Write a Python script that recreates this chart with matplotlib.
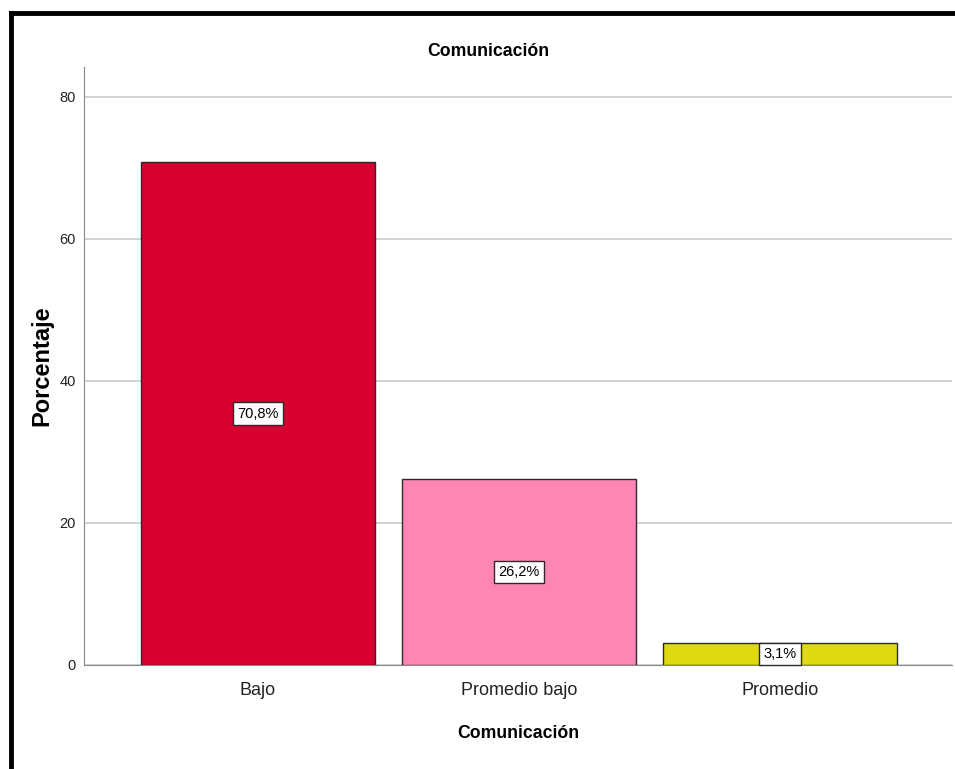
import matplotlib
matplotlib.use('Agg')
from matplotlib import pyplot as plt
from matplotlib.lines import Line2D
import numpy as np

categories = ['Bajo', 'Promedio bajo', 'Promedio']
values = [70.8, 26.2, 3.1]
labels = ['70,8%', '26,2%', '3,1%']
colors = ['#D7002F', '#FF85B5', '#E0D90F']
yticks = [0, 20, 40, 60, 80]

plt.rcParams['font.family'] = ['Liberation Sans', 'DejaVu Sans']

fig = plt.figure(figsize=(9.55, 7.69), dpi=100)
ax = fig.add_axes([84/955, 1-665/769, (952-84)/955, (665-67)/769])

x = np.arange(len(categories))
ax.bar(x, values, width=0.897, color=colors, edgecolor='#2a2a2a', linewidth=1, zorder=3)
for xi, v, lab in zip(x, values, labels):
    ax.text(xi, v/2, lab, ha='center', va='center', fontsize=10.5, zorder=4,
            bbox=dict(boxstyle='square,pad=0.3', fc='white', ec='#2a2a2a', lw=1))

ax.set_xlim(-0.667, 2.66)
ax.set_ylim(0, 84.2)
ax.set_yticks(yticks)
ax.set_xticks(x, categories)
ax.tick_params(axis='y', length=0, labelsize=10.5, pad=6, labelcolor='#222222')
ax.tick_params(axis='x', length=0, labelsize=13, pad=12, labelcolor='#222222')
ax.grid(axis='y', color='#cccccc', lw=1.2, zorder=0)
for s in ['top', 'right']:
    ax.spines[s].set_visible(False)
for s in ['left', 'bottom']:
    ax.spines[s].set_color('#888888')

fig.text(488/955, 1-56/769, 'Comunicación', ha='center', va='baseline', fontsize=12.7, fontweight='bold')
ax.set_xlabel('Comunicación', fontsize=12.7, fontweight='bold')
ax.xaxis.set_label_coords(0.5, -0.1)
ax.set_ylabel('Porcentaje', fontsize=17, fontweight='bold')
ax.yaxis.set_label_coords(-0.035, 0.5)

# black frame (left and top)
fig.add_artist(Line2D([11/955, 11/955], [0, 1-13/769], color='black', lw=3.5, transform=fig.transFigure))
fig.add_artist(Line2D([11/955, 1], [1-13/769, 1-13/769], color='black', lw=3.5, transform=fig.transFigure))

fig.savefig('out.png', dpi=100)
